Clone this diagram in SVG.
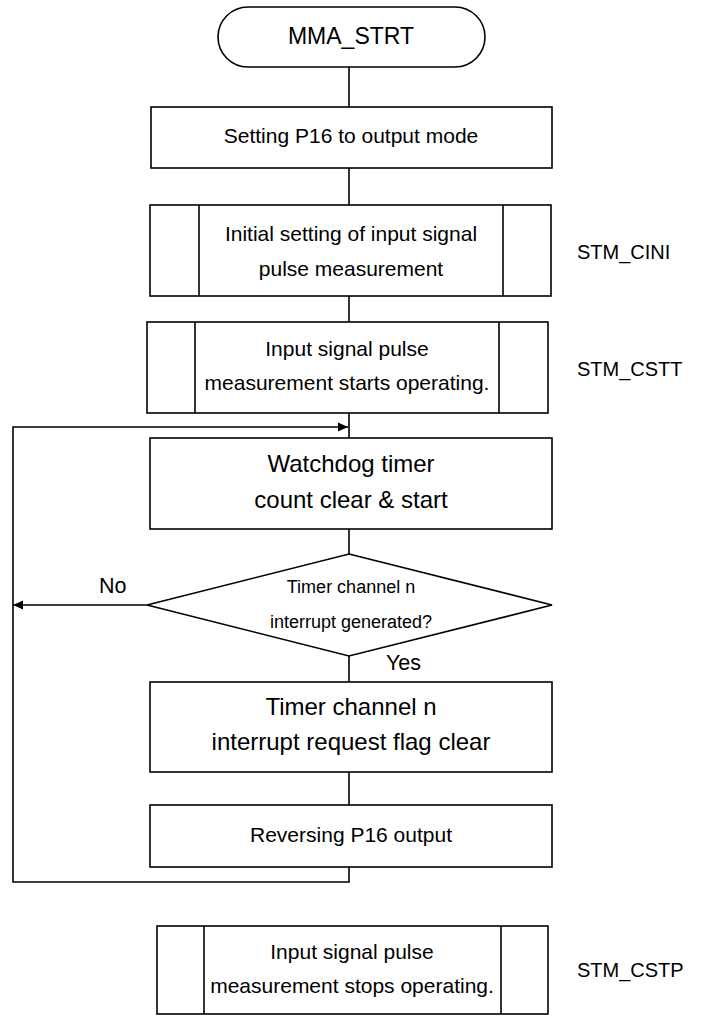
<svg xmlns="http://www.w3.org/2000/svg" width="707" height="1017" viewBox="0 0 707 1017">
<style>
.s{fill:#fff;stroke:#000;stroke-width:1.6}
.c{fill:none;stroke:#000;stroke-width:1.6}
text{font-family:"Liberation Sans",Arial,sans-serif;fill:#000}
.m{text-anchor:middle;font-size:21px}
.b{text-anchor:middle;font-size:24px}
.d{text-anchor:middle;font-size:18px}
.l{font-size:20px}
</style>
<defs>
<marker id="ah" viewBox="0 0 10 10" refX="10" refY="5" markerWidth="10" markerHeight="10" markerUnits="userSpaceOnUse" orient="auto">
<path d="M0,0.5 L10,5 L0,9.5 Z" fill="#000"/>
</marker>
</defs>
<g id="connectors">
<line class="c" x1="349" y1="67" x2="349" y2="107"/>
<line class="c" x1="349" y1="168" x2="349" y2="205"/>
<line class="c" x1="349" y1="296" x2="349" y2="322"/>
<line class="c" x1="349" y1="413" x2="349" y2="438"/>
<line class="c" x1="349" y1="529" x2="349" y2="554"/>
<line class="c" x1="349" y1="656" x2="349" y2="682"/>
<line class="c" x1="349" y1="772" x2="349" y2="805"/>
<polyline class="c" points="349,867 349,882 13,882 13,427 348,427" marker-end="url(#ah)"/>
<line class="c" x1="147" y1="605" x2="13" y2="605" marker-end="url(#ah)"/>
<text x="99" y="593" style="font-size:21.5px">No</text>
<text x="386" y="670" style="font-size:21.5px">Yes</text>
</g>
<g id="start">
<rect class="s" x="218" y="7" width="267" height="60" rx="30" ry="30"/>
<text x="351" y="44" text-anchor="middle" style="font-size:23px">MMA_STRT</text>
</g>
<g id="setP16">
<rect class="s" x="151" y="107" width="401" height="61"/>
<text class="m" x="351" y="143">Setting P16 to output mode</text>
</g>
<g id="stmCini">
<rect class="s" x="150" y="205" width="401" height="91"/>
<line class="c" x1="199" y1="205" x2="199" y2="296"/>
<line class="c" x1="503" y1="205" x2="503" y2="296"/>
<text class="m" x="351" y="241">Initial setting of input signal</text>
<text class="m" x="351" y="276">pulse measurement</text>
<text class="l" x="577" y="259">STM_CINI</text>
</g>
<g id="stmCstt">
<rect class="s" x="147" y="322" width="401" height="91"/>
<line class="c" x1="195" y1="322" x2="195" y2="413"/>
<line class="c" x1="499" y1="322" x2="499" y2="413"/>
<text class="m" x="347" y="356">Input signal pulse</text>
<text class="m" x="347" y="390">measurement starts operating.</text>
<text class="l" x="577" y="376">STM_CSTT</text>
</g>
<g id="wdt">
<rect class="s" x="150" y="438" width="402" height="91"/>
<text class="b" x="351" y="472">Watchdog timer</text>
<text class="b" x="351" y="508">count clear &amp; start</text>
</g>
<g id="decision">
<polygon class="s" points="349,554 552,605 349,656 147,605"/>
<text class="d" x="351" y="593">Timer channel n</text>
<text class="d" x="351" y="628">interrupt generated?</text>
</g>
<g id="flagClear">
<rect class="s" x="150" y="682" width="402" height="90"/>
<text class="b" x="351" y="715">Timer channel n</text>
<text class="b" x="351" y="750">interrupt request flag clear</text>
</g>
<g id="reverse">
<rect class="s" x="150" y="805" width="402" height="62"/>
<text class="m" x="351" y="842">Reversing P16 output</text>
</g>
<g id="stmCstp">
<rect class="s" x="157" y="926" width="391" height="88"/>
<line class="c" x1="204" y1="926" x2="204" y2="1014"/>
<line class="c" x1="501" y1="926" x2="501" y2="1014"/>
<text class="m" x="352" y="959">Input signal pulse</text>
<text class="m" x="352" y="993">measurement stops operating.</text>
<text class="l" x="577" y="977">STM_CSTP</text>
</g>
</svg>
